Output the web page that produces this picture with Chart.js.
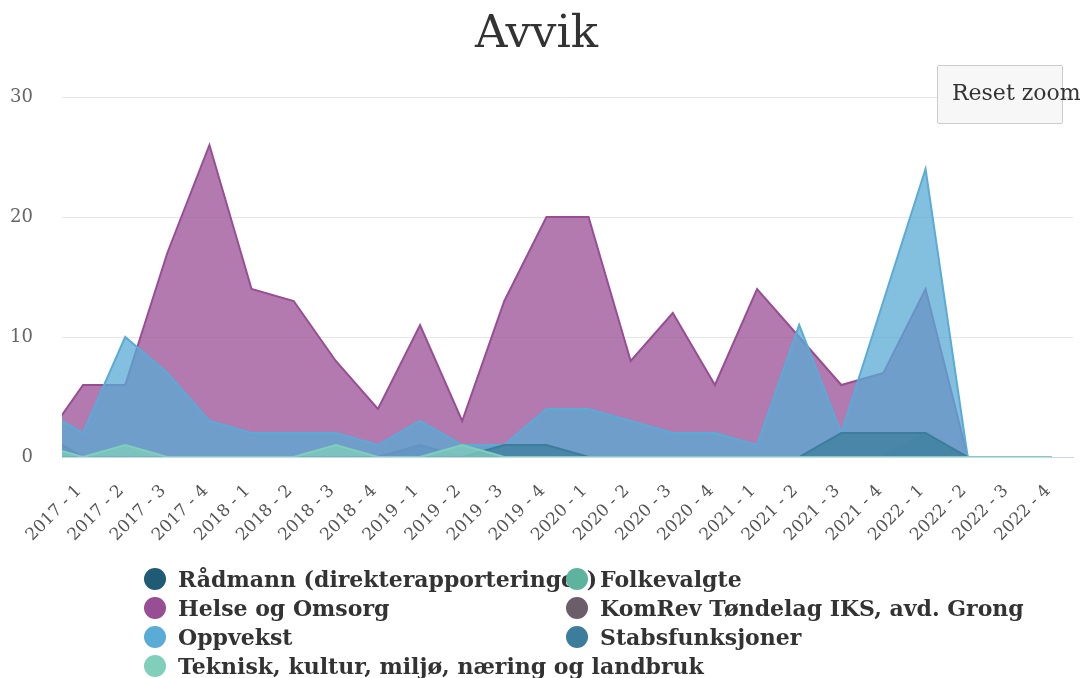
<!DOCTYPE html>
<html>
<head>
<meta charset="utf-8">
<script src="https://cdn.jsdelivr.net/npm/chart.js@4.4.0/dist/chart.umd.min.js"></script>
<style>
  body { margin: 0; background: #fff; }
  #wrap { position: relative; width: 1085px; height: 678px; overflow: hidden; }
  #reset {
    position: absolute; left: 937px; top: 65px; width: 126px; height: 59px;
    box-sizing: border-box; background: #f7f7f7; border: 1px solid #cccccc; border-radius: 2px;
    font: 22px "DejaVu Serif"; color: #333; padding: 0 0 0 14px; text-align: left;
    white-space: nowrap; overflow: visible; line-height: 54px;
  }
  .leg { position: absolute; font: bold 22px "DejaVu Serif"; color: #333; white-space: nowrap; line-height: 29px; }
  .leg i { position: absolute; left: -34px; top: 3.5px; width: 22px; height: 22px; border-radius: 50%; }
</style>
</head>
<body>
<div id="wrap">
  <canvas id="chart" width="1085" height="678"></canvas>
  <div id="reset">Reset zoom</div>
  <div id="legend"></div>
</div>
<script>
// chart is zoomed: 2016 - 4 sits just left of the visible window
const categories = ["2016 - 4",
  "2017 - 1", "2017 - 2", "2017 - 3", "2017 - 4",
  "2018 - 1", "2018 - 2", "2018 - 3", "2018 - 4",
  "2019 - 1", "2019 - 2", "2019 - 3", "2019 - 4",
  "2020 - 1", "2020 - 2", "2020 - 3", "2020 - 4",
  "2021 - 1", "2021 - 2", "2021 - 3", "2021 - 4",
  "2022 - 1", "2022 - 2", "2022 - 3", "2022 - 4"];

const radmann     = [2, 0, 0, 0, 0, 0, 0, 0, 0, 1, 0, 0, 0, 0, 0, 0, 0, 0, 0, 0, 0, 0, 0, 0, 0];
const folkevalgte = [0, 0, 0, 0, 0, 0, 0, 0, 0, 0, 0, 0, 0, 0, 0, 0, 0, 0, 0, 0, 0, 2, 0, 0, 0];
const helse       = [1, 6, 6, 17, 26, 14, 13, 8, 4, 11, 3, 13, 20, 20, 8, 12, 6, 14, 10, 6, 7, 14, 0, 0, 0];
const komrev      = [0, 0, 0, 0, 0, 0, 0, 0, 0, 0, 0, 0, 0, 0, 0, 0, 0, 0, 0, 0, 0, 0, 0, 0, 0];
const oppvekst    = [4, 2, 10, 7, 3, 2, 2, 2, 1, 3, 1, 1, 4, 4, 3, 2, 2, 1, 11, 2, 13, 24, 0, 0, 0];
const stab        = [0, 0, 0, 0, 0, 0, 0, 0, 0, 0, 0, 1, 1, 0, 0, 0, 0, 0, 0, 2, 2, 2, 0, 0, 0];
const teknisk     = [1, 0, 1, 0, 0, 0, 0, 1, 0, 0, 1, 0, 0, 0, 0, 0, 0, 0, 0, 0, 0, 0, 0, 0, 0];

const yTicks = [0, 10, 20, 30];
const xMin = 0.5, xMax = 24.5;

const series = [
  { name: "Rådmann (direkterapporteringer)", data: radmann, color: "#1f5b75" },
  { name: "Folkevalgte", data: folkevalgte, color: "#5eb39f" },
  { name: "Helse og Omsorg", data: helse, color: "#984e93" },
  { name: "KomRev Tøndelag IKS, avd. Grong", data: komrev, color: "#6b5e6a" },
  { name: "Oppvekst", data: oppvekst, color: "#5aabd6" },
  { name: "Stabsfunksjoner", data: stab, color: "#3c7d9c" },
  { name: "Teknisk, kultur, miljø, næring og landbruk", data: teknisk, color: "#7fcfba" }
];

function fade(hex, a) {
  var n = parseInt(hex.slice(1), 16);
  return "rgba(" + (n >> 16) + "," + ((n >> 8) & 255) + "," + (n & 255) + "," + a + ")";
}

var datasets = series.map(function (s, i) {
  return {
    label: s.name,
    data: s.data.map(function (v, k) { return { x: k, y: v }; }),
    borderColor: s.color,
    backgroundColor: fade(s.color, 0.75),
    borderWidth: 2,
    pointRadius: 0,
    tension: 0,
    fill: "origin",
    order: series.length - 1 - i
  };
});

var ctx = document.getElementById("chart").getContext("2d");
new Chart(ctx, {
  type: "line",
  data: { datasets: datasets },
  options: {
    responsive: false,
    animation: false,
    layout: { padding: { top: 0, left: 0, right: 12, bottom: 121 } },
    plugins: {
      legend: { display: false },
      tooltip: { enabled: false },
      title: {
        display: true,
        text: "Avvik",
        color: "#333333",
        font: { family: "DejaVu Serif", size: 45, weight: "normal", lineHeight: 1.2 },
        padding: { top: 8, bottom: 35 }
      }
    },
    scales: {
      x: {
        type: "linear",
        min: xMin,
        max: xMax,
        afterBuildTicks: function (s) {
          s.ticks = categories.map(function (c, i) { return { value: i }; })
            .filter(function (t) { return t.value >= xMin && t.value <= xMax; });
        },
        afterFit: function (s) {
          s.height = 100;
          s.paddingLeft = 0;
          s.paddingRight = 0;
        },
        grid: { display: false, drawTicks: false },
        border: { display: true, color: "#ccd6eb", width: 1 },
        ticks: {
          autoSkip: false,
          minRotation: 45,
          maxRotation: 45,
          padding: 24,
          labelOffset: -4,
          color: "#555555",
          font: { family: "DejaVu Serif", size: 17 },
          callback: function (v) { return categories[v]; }
        }
      },
      y: {
        min: yTicks[0],
        max: yTicks[yTicks.length - 1],
        afterBuildTicks: function (s) {
          s.ticks = yTicks.map(function (v) { return { value: v }; });
        },
        afterFit: function (s) { s.width = 62; },
        grid: { color: "#e6e6e6", drawTicks: false },
        border: { display: false },
        ticks: {
          padding: 29,
          color: "#666666",
          font: { family: "DejaVu Serif", size: 18 }
        }
      }
    }
  }
});

// legend in two fixed-width columns, like the original
var legend = document.getElementById("legend");
series.forEach(function (s, k) {
  var col = k % 2, row = Math.floor(k / 2);
  var d = document.createElement("div");
  d.className = "leg";
  d.style.left = (col ? 600 : 178) + "px";
  d.style.top = (579 + row * 29 - 14.5) + "px";
  d.innerHTML = '<i style="background:' + s.color + '"></i>' + s.name;
  legend.appendChild(d);
});
</script>
</body>
</html>
